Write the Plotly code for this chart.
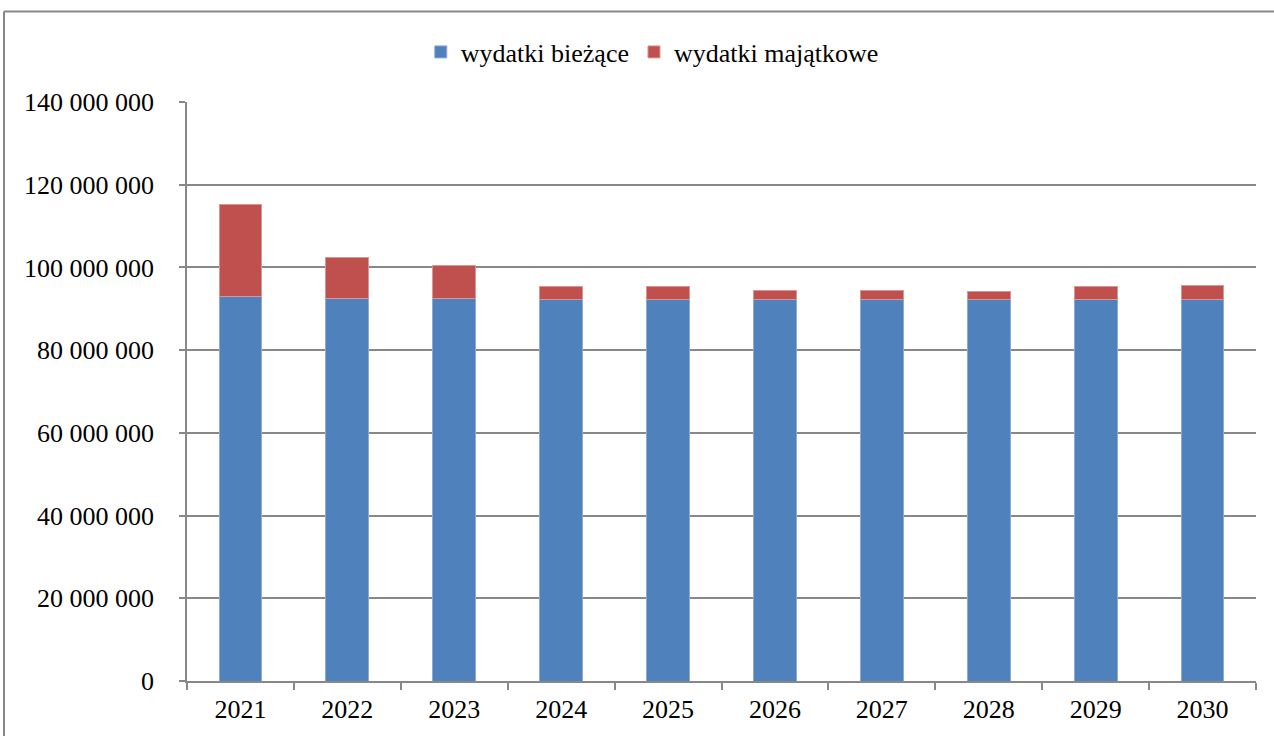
import plotly.graph_objects as go

years = ["2021", "2022", "2023", "2024", "2025", "2026", "2027", "2028", "2029", "2030"]
biezace = [92.9e6, 92.5e6, 92.4e6, 92.3e6, 92.3e6, 92.3e6, 92.3e6, 92.3e6, 92.3e6, 92.3e6]
totals = [115.3e6, 102.4e6, 100.4e6, 95.3e6, 95.3e6, 94.5e6, 94.5e6, 94.3e6, 95.5e6, 95.7e6]
majatkowe = [t - b for t, b in zip(totals, biezace)]

fig = go.Figure()
fig.add_trace(go.Bar(x=years, y=biezace, name="wydatki bieżące",
                     marker=dict(color="#4F81BD", line=dict(color="#8DA9D6", width=1))))
fig.add_trace(go.Bar(x=years, y=majatkowe, name="wydatki majątkowe",
                     marker=dict(color="#C0504D", line=dict(color="#D99694", width=1))))

L, R, T, B = 187, 18, 102, 55
W, H = 1274, 736
pw, ph = W - L - R, H - T - B

FONT = "Liberation Serif, Times New Roman, DejaVu Serif, serif"
FS = 26

fig.update_layout(
    barmode="stack", bargap=0.6,
    width=W, height=H,
    margin=dict(l=L, r=R, t=T, b=B),
    paper_bgcolor="white", plot_bgcolor="white",
    font=dict(family=FONT, size=FS, color="black"),
    separators=", ",
    showlegend=True,
    legend=dict(orientation="h", xref="container", yref="container",
                x=0.512, xanchor="center", y=1 - 52 / H, yanchor="middle",
                font=dict(family=FONT, size=FS), itemwidth=30, traceorder="normal"),
    xaxis=dict(showline=True, linecolor="#888888", linewidth=1.5,
               ticks="outside", tickson="boundaries", ticklen=7, tickcolor="#888888",
               tickwidth=1.5, showgrid=False, ticklabelstandoff=4,
               tickfont=dict(family=FONT, size=FS)),
    yaxis=dict(range=[0, 140e6], dtick=20e6, tickformat=",d",
               showline=True, linecolor="#888888", linewidth=1.5,
               ticks="outside", ticklen=6, tickcolor="#888888", tickwidth=1.5,
               showgrid=True, gridcolor="#888888", gridwidth=1.5,
               zeroline=False, ticklabelstandoff=20,
               tickfont=dict(family=FONT, size=FS)),
)

# outer chart frame (top and left edges visible)
x_left = (4 - L) / pw
y_top = (H - B - 11.5) / ph
fig.add_shape(type="line", xref="paper", yref="paper", x0=x_left, x1=(W - L) / pw + 0.01,
              y0=y_top, y1=y_top, line=dict(color="#888888", width=2))
fig.add_shape(type="line", xref="paper", yref="paper", x0=x_left, x1=x_left,
              y0=y_top, y1=-B / ph - 0.01, line=dict(color="#888888", width=2))

fig.write_html("out.html", config={"displayModeBar": False},
               post_script="document.body.style.margin='0';document.body.style.padding='0';")
